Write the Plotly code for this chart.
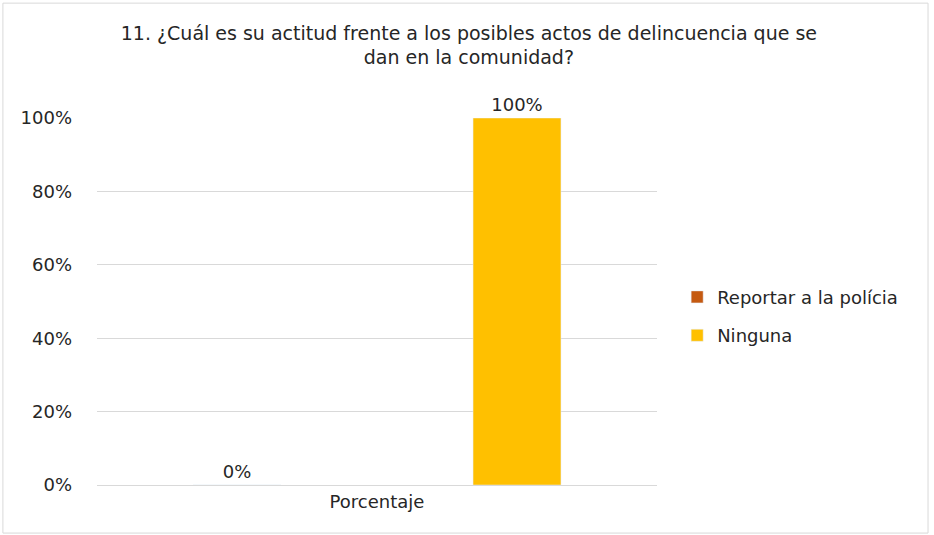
import plotly.graph_objects as go

categories = ["Porcentaje"]
series_names = ["Reportar a la polícia", "Ninguna"]
series_values = [[0.0], [1.0]]
series_colors = ["#C55A11", "#FFC000"]
tick_vals = [0, 0.2, 0.4, 0.6, 0.8, 1.0]
tick_text = ["0%", "20%", "40%", "60%", "80%", "100%"]

FONT = "DejaVu Sans, sans-serif"
TXT = "#262626"

fig = go.Figure()
for name, vals, col in zip(series_names, series_values, series_colors):
    fig.add_trace(go.Bar(
        x=categories, y=vals, name=name, marker_color=col, legendgroup=name,
        text=[f"{v*100:.0f}%" for v in vals], textposition="outside",
        textfont=dict(size=18, color=TXT, family=FONT),
        cliponaxis=False,
    ))

fig.update_layout(
    width=934, height=535,
    margin=dict(l=97, r=277, t=118, b=50),
    paper_bgcolor="white", plot_bgcolor="white",
    barmode="group", bargap=0.0, bargroupgap=0.686,
    font=dict(family=FONT, size=18, color=TXT),
    title=dict(
        text="11. ¿Cuál es su actitud frente a los posibles actos de delincuencia que se<br>dan en la comunidad?",
        x=0.502, xanchor="center", y=0.926, yanchor="top",
        font=dict(size=19, family=FONT, color=TXT),
    ),
    legend=dict(
        x=1.036, xanchor="left", y=0.46, yanchor="middle",
        font=dict(size=18, family=FONT, color=TXT),
        itemwidth=30, tracegroupgap=12,
    ),
    showlegend=True,
)
fig.update_yaxes(
    range=[0, 1], tickvals=tick_vals, ticktext=tick_text,
    showgrid=True, gridcolor="#D9D9D9", gridwidth=1,
    zeroline=False, showline=False, ticks="", ticklabelstandoff=24,
    tickfont=dict(size=18, family=FONT, color=TXT),
)
fig.update_xaxes(
    showline=True, linecolor="#D9D9D9", linewidth=1, ticks="",
    tickfont=dict(size=18, family=FONT, color=TXT),
)
fig.add_shape(type="rect", xref="paper", yref="paper",
              x0=-0.168, x1=1.484, y0=-0.131, y1=1.313,
              line=dict(color="#D9D9D9", width=1))

fig.write_html("out.html", config={"displayModeBar": False},
               post_script="document.body.style.margin='0';")
